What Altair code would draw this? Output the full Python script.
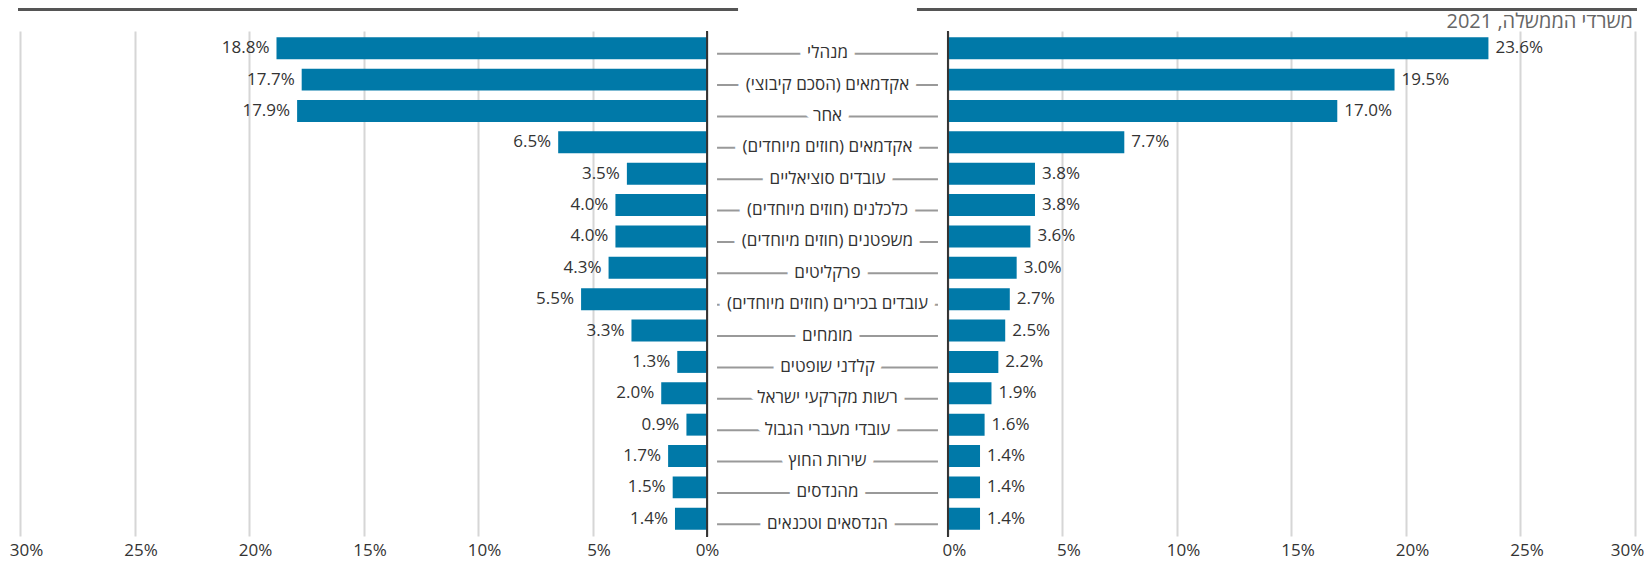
import altair as alt
import pandas as pd

categories = [
    "מנהלי",
    "אקדמאים (הסכם קיבוצי)",
    "אחר",
    "אקדמאים (חוזים מיוחדים)",
    "עובדים סוציאליים",
    "כלכלנים (חוזים מיוחדים)",
    "משפטנים (חוזים מיוחדים)",
    "פרקליטים",
    "עובדים בכירים (חוזים מיוחדים)",
    "מומחים",
    "קלדני שופטים",
    "רשות מקרקעי ישראל",
    "עובדי מעברי הגבול",
    "שירות החוץ",
    "מהנדסים",
    "הנדסאים וטכנאים",
]
left_values = [18.8, 17.7, 17.9, 6.5, 3.5, 4.0, 4.0, 4.3, 5.5, 3.3, 1.3, 2.0, 0.9, 1.7, 1.5, 1.4]
right_values = [23.6, 19.5, 17.0, 7.7, 3.8, 3.8, 3.6, 3.0, 2.7, 2.5, 2.2, 1.9, 1.6, 1.4, 1.4, 1.4]
tick_percents = [0, 5, 10, 15, 20, 25, 30]
title_text = "משרדי הממשלה, 2021"

RLM = "\u200f"
H = 5.26          # half gap between the two panels, in percent units
W = 1615
HT = 505
PX = W / (60 + 2 * H)
FONT = "Open Sans"
FS = 17

rows = []
for c, lv, rv in zip(categories, left_values, right_values):
    rows.append({"category": c, "label": RLM + c + RLM, "side": "left", "value": lv})
    rows.append({"category": c, "label": RLM + c + RLM, "side": "right", "value": rv})
df = pd.DataFrame(rows)

ticks = sorted([-(H + t) for t in tick_percents] + [H + t for t in tick_percents])

xscale = alt.Scale(domain=[-(30 + H), 30 + H], nice=False, zero=False)
yscale = alt.Scale(paddingInner=0.3, paddingOuter=0.2)
ysort = categories

base = alt.Chart(df).transform_calculate(
    x0=f"datum.side == 'left' ? -{H} : {H}",
    x1=f"datum.side == 'left' ? -{H} - datum.value : {H} + datum.value",
    txt="format(datum.value, '.1f') + '%'",
)

Y = alt.Y("category:N", sort=ysort, scale=yscale, axis=None)

bars = base.mark_bar(color="#0079a8").encode(
    y=Y,
    x=alt.X(
        "x0:Q",
        scale=xscale,
        axis=alt.Axis(
            values=ticks,
            grid=True,
            gridColor="#d6d6d6",
            gridWidth=2,
            domain=False,
            ticks=False,
            labelExpr=f"round(abs(datum.value) - {H}) + '%'",
            labelFontSize=FS,
            labelFont=FONT,
            labelColor="#333333",
            labelBaseline="alphabetic",
            labelPadding=19,
            labelFlush=False,
            labelOffset={
                "condition": [
                    {"test": f"datum.value > {30 + H - 0.5}", "value": -8},
                    {"test": f"abs(datum.value + {H}) < 0.5", "value": 0},
                ],
                "value": 6,
            },
            title=None,
        ),
    ),
    x2="x1:Q",
)

left_text = base.transform_filter("datum.side == 'left'").mark_text(
    align="right", baseline="middle", dx=-7, fontSize=FS, font=FONT, color="#333333"
).encode(y=Y, x=alt.X("x1:Q", scale=xscale), text="txt:N")

right_text = base.transform_filter("datum.side == 'right'").mark_text(
    align="left", baseline="middle", dx=7, fontSize=FS, font=FONT, color="#333333"
).encode(y=Y, x=alt.X("x1:Q", scale=xscale), text="txt:N")

line_half = H - 10 / PX
mid_lines = base.transform_filter("datum.side == 'left'").transform_calculate(
    la=f"-{line_half}", lb=f"{line_half}"
).mark_rule(color="#999999", strokeWidth=2, yOffset=5.5).encode(
    y=Y, x=alt.X("la:Q", scale=xscale), x2="lb:Q"
)

halo = base.transform_filter("datum.side == 'left'").transform_calculate(cx="0").mark_text(
    align="center", baseline="middle", dy=5, fontSize=FS, font=FONT,
    fill="white", stroke="white", strokeWidth=16, strokeJoin="round",
).encode(y=Y, x=alt.X("cx:Q", scale=xscale), text="label:N")

cat_text = base.transform_filter("datum.side == 'left'").transform_calculate(cx="0").mark_text(
    align="center", baseline="middle", dy=5, fontSize=FS, font=FONT, color="#333333"
).encode(y=Y, x=alt.X("cx:Q", scale=xscale), text="label:N")

zero_df = pd.DataFrame({"pos": [-H, H]})
zero_lines = alt.Chart(zero_df).mark_rule(color="#333333", strokeWidth=2).encode(
    x=alt.X("pos:Q", scale=xscale),
    y=alt.value(0),
    y2=alt.value(HT + 1),
)

top_df = pd.DataFrame({"a": [-(30 + H) - 2 / PX, H - 31 / PX], "b": [-H + 31 / PX, 30 + H + 2 / PX]})
top_rules = alt.Chart(top_df).mark_rule(color="#555555", strokeWidth=3).encode(
    x=alt.X("a:Q", scale=xscale),
    x2="b:Q",
    y=alt.value(-21.5),
)

title_df = pd.DataFrame({"t": [RLM + title_text], "px": [30 + H - 2 / PX]})
title = alt.Chart(title_df).mark_text(
    align="right", baseline="middle", fontSize=20, font=FONT, color="#666666"
).encode(
    x=alt.X("px:Q", scale=xscale),
    y=alt.value(-9),
    text="t:N",
)

chart = alt.layer(
    bars, zero_lines, left_text, right_text, mid_lines, halo, cat_text, top_rules, title
).properties(
    width=W,
    height=HT,
    padding={"left": 12, "top": 23, "right": 9, "bottom": 26},
    autosize=alt.AutoSizeParams(type="none"),
).configure_view(stroke=None)

chart.save("out.html", embed_options={"renderer": "svg", "actions": False})
